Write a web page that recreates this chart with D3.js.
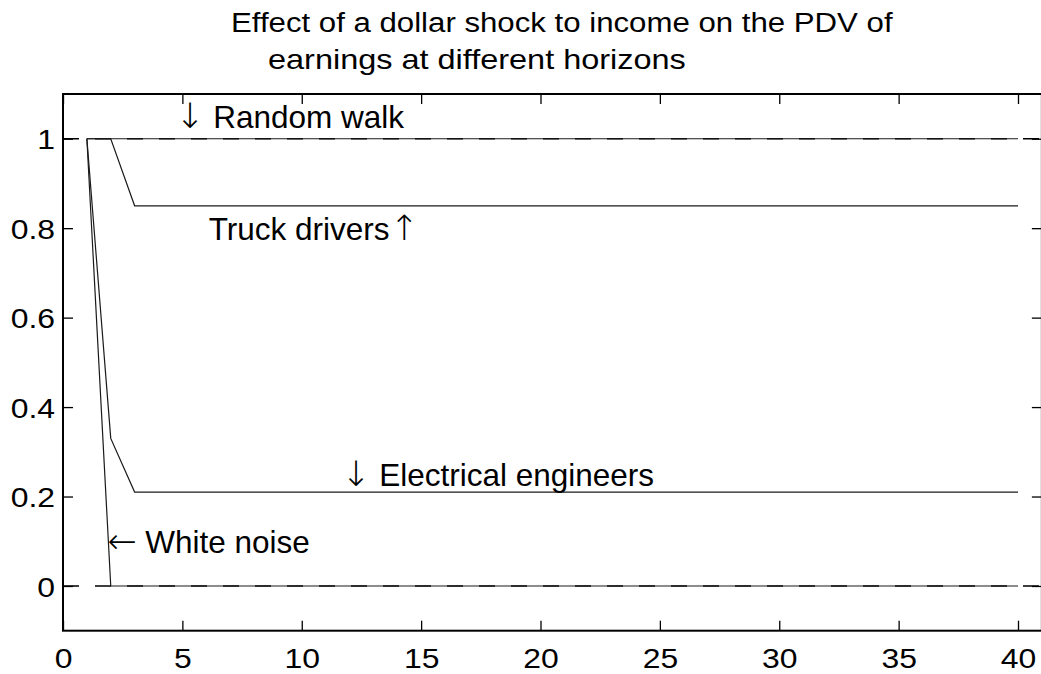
<!DOCTYPE html>
<html>
<head>
<meta charset="utf-8">
<script src="https://cdn.jsdelivr.net/npm/d3@7"></script>
<style>
  body { margin: 0; background: #fff; }
  text { font-family: "Liberation Sans", Arial, sans-serif; fill: #000; }
</style>
</head>
<body>
<svg id="chart" width="1041" height="674"></svg>
<script>
// horizon (years) at which the curves change slope, last point is 40
const horizon = [1, 2, 3, 40];
const randomWalk = [1, 1, 1, 1];
const truckDrivers = [1, 1, 0.85, 0.85];
const electricalEngineers = [1, 0.33, 0.21, 0.21];
const whiteNoise = [1, 0, 0, 0];

// dashed reference levels
const refLevels = [0, 1];

const xTicks = [0, 5, 10, 15, 20, 25, 30, 35, 40];
const yTicks = [0, 0.2, 0.4, 0.6, 0.8, 1];
const yTickLabels = ["0", "0.2", "0.4", "0.6", "0.8", "1"];

const titleLines = ["Effect of a dollar shock to income on the PDV of",
                    "earnings at different horizons"];

const labelText = ["\u2193 Random walk", "Truck drivers\u2191", "\u2193 Electrical engineers", "\u2190 White noise"];
const labelX = [4.7, 6.1, 11.65, 1.85];
const labelY = [1.05, 0.8, 0.25, 0.1];

const svg = d3.select('#chart');
const marginLeft = 63, marginTop = 94, plotBottom = 630.7;
const unit = 23.875;

const x = d3.scaleLinear().domain([0, 41]).range([marginLeft, marginLeft + 41 * unit]);
const y = d3.scaleLinear().domain([-0.1, 1.1]).range([plotBottom, marginTop]);

// clip to the axes box
svg.append('clipPath').attr('id', 'plotClip')
  .append('rect')
  .attr('x', x(0)).attr('y', y(1.1))
  .attr('width', x(41) - x(0)).attr('height', y(-0.1) - y(1.1));

const plotG = svg.append('g').attr('clip-path', 'url(#plotClip)');

// dashed reference lines
plotG.selectAll('line.ref')
  .data(refLevels)
  .enter()
  .append('line')
    .attr('class', 'ref')
    .attr('x1', x(0)).attr('x2', x(41))
    .attr('y1', d => y(d)).attr('y2', d => y(d))
    .style('stroke', '#000')
    .style('stroke-width', 1.6)
    .style('stroke-dasharray', '16,16');

const series = [randomWalk, truckDrivers, electricalEngineers, whiteNoise];
const line = d3.line()
  .x((d, i) => x(horizon[i]))
  .y(d => y(d));

plotG.selectAll('path.series')
  .data(series)
  .enter()
  .append('path')
    .attr('class', 'series')
    .attr('d', line)
    .style('fill', 'none')
    .style('stroke', '#1a1a1a')
    .style('stroke-width', 1.2);

// axes with ticks inside, on all four sides
const tickFont = 28, tickStretch = 1.14;

const xAxis = svg.append('g')
  .attr('transform', `translate(0,${plotBottom})`)
  .call(d3.axisBottom(x).tickValues(xTicks).tickSize(-10).tickPadding(17).tickFormat(d3.format('d')));
const xAxisTop = svg.append('g')
  .attr('transform', `translate(0,${marginTop})`)
  .call(d3.axisTop(x).tickValues(xTicks).tickSize(-10).tickFormat(''));
const yAxis = svg.append('g')
  .attr('transform', `translate(${marginLeft},0)`)
  .call(d3.axisLeft(y).tickValues(yTicks).tickSize(-10).tickPadding(8).tickFormat((d, i) => yTickLabels[i]));
const yAxisRight = svg.append('g')
  .attr('transform', `translate(${x(41)},0)`)
  .call(d3.axisRight(y).tickValues(yTicks).tickSize(-10).tickFormat(''));

[xAxis, xAxisTop, yAxis, yAxisRight].forEach(g => {
  g.select('.domain').remove();
  g.selectAll('line').style('stroke', '#000').style('stroke-width', 1.3);
  g.selectAll('text')
    .style('font-size', tickFont + 'px')
    .style('font-family', '"Liberation Sans", Arial, sans-serif')
    .attr('fill', '#000');
});

yAxis.selectAll('text')
  .attr('dy', '0.36em')
  .attr('x', function() { return +d3.select(this).attr('x') / tickStretch; })
  .attr('transform', `scale(${tickStretch},1)`);
xAxis.selectAll('text')
  .attr('transform', `scale(${tickStretch},1)`);

// axes box
svg.append('rect')
  .attr('x', x(0)).attr('y', y(1.1))
  .attr('width', x(41) - x(0)).attr('height', y(-0.1) - y(1.1))
  .style('fill', 'none')
  .style('stroke', '#000')
  .style('stroke-width', 2);

// curve labels, arrows set in a font with full-size arrow glyphs
const labels = svg.selectAll('text.curveLabel')
  .data(labelText)
  .enter()
  .append('text')
    .attr('class', 'curveLabel')
    .attr('x', (d, i) => x(labelX[i]))
    .attr('y', (d, i) => y(labelY[i]))
    .attr('dy', '0.36em')
    .style('font-size', '31.5px');

labels.each(function(d) {
  const t = d3.select(this);
  d.split(/([\u2190-\u2193])/).filter(s => s.length).forEach(part => {
    const span = t.append('tspan').text(part);
    if (/[\u2190-\u2193]/.test(part)) {
      span.style('font-family', '"DejaVu Sans", sans-serif')
        .style('font-weight', 200)
        .style('font-size', '35px');
    }
  });
});

// title (two lines, slightly wide lettering like the original)
const titleX = [231, 268];
const titleY = [32, 69];
const titleWidth = [662, 418];
svg.selectAll('text.title')
  .data(titleLines)
  .enter()
  .append('text')
    .attr('class', 'title')
    .style('font-size', '28px')
    .text(d => d)
    .attr('transform', function(d, i) {
      const s = titleWidth[i] / this.getComputedTextLength();
      return `translate(${titleX[i]},${titleY[i]}) scale(${s},1)`;
    });
</script>
</body>
</html>
